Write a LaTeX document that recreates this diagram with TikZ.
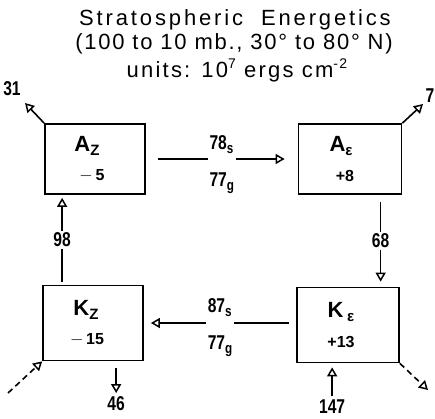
\documentclass[tikz,border=0pt]{standalone}
\usepackage{fontspec}
\setmainfont{Liberation Sans}
\newfontfamily\numfont[FakeStretch=0.78]{Liberation Sans}
\newfontfamily\titlefonta[LetterSpace=13]{Liberation Sans}
\newfontfamily\titlefontb[LetterSpace=8]{Liberation Sans}
\newfontfamily\titlefontc[LetterSpace=10]{Liberation Sans}
\usetikzlibrary{arrows.meta,calc}
\newcommand\subl[1]{\raisebox{-4pt}{\fontsize{15}{15}\selectfont #1}}
\newcommand\supl[1]{\raisebox{9pt}{\fontsize{14}{14}\selectfont #1}}
\begin{document}
\begin{tikzpicture}[x={(1pt,0)},y={(0,-1pt)},
  ebox/.style={draw, line width=1.7pt, inner sep=0pt},
  flow/.style={line width=1.6pt, -{Triangle[open, length=9pt, width=10pt, line width=1.5pt]}},
  dflow/.style={flow, dash pattern=on 6pt off 4pt},
  numtxt/.style={font=\numfont\bfseries\fontsize{20}{20}\selectfont, inner sep=1pt},
  cuttxt/.style={numtxt, fill=white, inner sep=2pt},
  pairtxt/.style={font=\numfont\bfseries\fontsize{20}{37}\selectfont, fill=white, align=left, inner xsep=2pt, inner ysep=0pt},
  boxname/.style={font=\bfseries\fontsize{22}{22}\selectfont, inner sep=0pt},
  boxval/.style={font=\bfseries\fontsize{16}{16}\selectfont, inner sep=0pt},
  titlea/.style={font=\titlefonta\fontsize{22}{22}\selectfont, inner sep=0pt},
  titleb/.style={font=\titlefontb\fontsize{22}{22}\selectfont, inner sep=0pt},
  titlec/.style={font=\titlefontc\fontsize{22}{22}\selectfont, inner sep=0pt}]
\useasboundingbox (0,0) rectangle (435,418);
% title
\node[titlea] (t1) at (235,20) {Stratospheric\ \ Energetics};
\node[titleb] (t2) at (234,44) {(100 to 10 mb., 30\textdegree\ to 80\textdegree\ N)};
\node[titlec] (t3) at (237,70) {units: 10\supl{7} ergs cm\supl{-2}};
% boxes
\node[ebox, minimum width=100pt, minimum height=70pt] (az) at (95,159) {};
\node[ebox, minimum width=103pt, minimum height=70pt] (ae) at (350,159) {};
\node[ebox, minimum width=100pt, minimum height=75pt] (kz) at (93,323) {};
\node[ebox, minimum width=102pt, minimum height=75pt] (ke) at (348,325) {};
% box texts
\node[boxname] (azn) at (87,146) {A\subl{Z}};
\node[boxval] (azv) at (92,176) {$-$\,5};
\node[boxname] (aen) at (341,146) {A\subl{ε}};
\node[boxval] (aev) at (345,176) {+8};
\node[boxname] (kzn) at (86,310) {K\subl{Z}};
\node[boxval] (kzv) at (87,340) {$-$\,15};
\node[boxname] (ken) at (341,312) {K\,\subl{ε}};
\node[boxval] (kev) at (341,342) {+13};
% horizontal flows
\draw[flow, shorten <=12pt, shorten >=13pt] (az) -- node[pairtxt, yshift=-6pt] {78\subl{s}\\77\subl{g}} (ae);
\draw[flow, shorten <=7pt, shorten >=7pt] (ke.west |- kz) -- node[pairtxt, yshift=-5pt] {87\subl{s}\\77\subl{g}} (kz);
% vertical flows
\coordinate (b98) at ($(kz.north west)+(20,0)$);
\draw[flow, shorten <=3pt, shorten >=3pt] (b98) -- node[cuttxt] {98} (b98 |- az.south);
\coordinate (b68) at ($(ae.south west)+(83,0)$);
\draw[flow, shorten <=7pt, shorten >=5pt] (b68) -- node[cuttxt] {68} (b68 |- ke.north);
% outputs and inputs
\node[numtxt] (n31) at (12,89) {31};
\coordinate (t31) at (25,103);
\draw[flow] (az.north west) -- (t31);
\node[numtxt] (n7) at (430,96) {7};
\coordinate (t7) at (423,104);
\draw[flow] (ae.north east) -- (t7);
\node[numtxt] (n46) at ($(kz.south west)+(74,42)$) {46};
\draw[flow, shorten <=7pt, shorten >=2pt] ($(kz.south west)+(74,0)$) -- (n46.north);
\node[numtxt] (n147) at ($(ke.south west)+(36,43)$) {147};
\draw[flow, shorten <=2pt, shorten >=4pt] (n147.north) -- ($(ke.south west)+(36,0)$);
\coordinate (d1) at (8,393);
\draw[dflow] (d1) -- (kz.south west);
\coordinate (d2) at (428,390);
\draw[dflow] (ke.south east) -- (d2);
\end{tikzpicture}
\end{document}
